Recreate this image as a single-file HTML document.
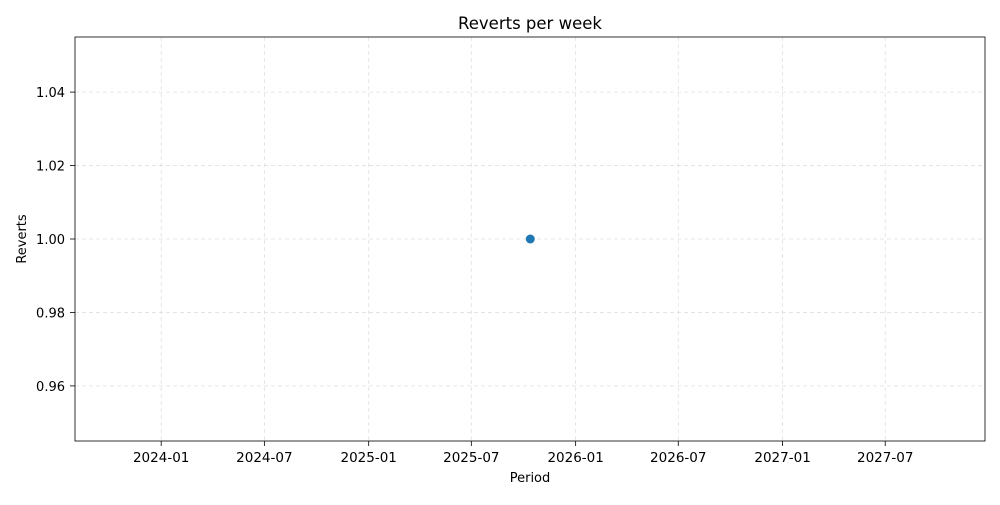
<!DOCTYPE html>
<html><head><meta charset="utf-8"><style>
body{margin:0;background:#fff;font-family:"Liberation Sans","DejaVu Sans",sans-serif;}
svg text{font-family:"DejaVu Sans","Liberation Sans",sans-serif;}
</style></head><body>
<svg id="chart" width="1000" height="500">
<rect width="1000" height="500" fill="#fff"/>
<g id="grid"></g><g id="axes"></g><g id="marks"></g>
<text x="530" y="29" text-anchor="middle" font-size="16.5">Reverts per week</text>
<text x="530" y="482" text-anchor="middle" font-size="13">Period</text>
<text transform="translate(26,239) rotate(-90)" text-anchor="middle" font-size="13">Reverts</text>
</svg>
<script>
const dates = ["2025-10-13"];
const values = [1];
const xTicks = ["2024-01","2024-07","2025-01","2025-07","2026-01","2026-07","2027-01","2027-07"];
const yTicks = [0.96,0.98,1.00,1.02,1.04];
const L=75,R=985,T=37,B=441;
const x0=Date.UTC(2023,7,2), x1=Date.UTC(2027,11,24);
const y0=0.945, y1=1.055;
function xs(d){const t=Date.parse(d.length===7?d+"-01":d);return L+(t-x0)/(x1-x0)*(R-L);}
function ys(v){return B-(v-y0)/(y1-y0)*(B-T);}
const NS="http://www.w3.org/2000/svg";
function mk(p,tag,a){const e=document.createElementNS(NS,tag);for(const k in a)e.setAttribute(k,a[k]);p.appendChild(e);return e;}
const g=document.getElementById('grid'),ax=document.getElementById('axes'),m=document.getElementById('marks');
xTicks.forEach(t=>{const x=xs(t);
 const l=mk(g,'line',{x1:x,x2:x,y1:T,y2:B,stroke:'#e0e0e0','stroke-dasharray':'4,3','stroke-width':0.8});
 
 
 mk(ax,'line',{x1:x,x2:x,y1:B,y2:B+5,stroke:'#000','stroke-width':0.8});
 const tx=mk(ax,'text',{x:x,y:B+21,'text-anchor':'middle','font-size':13.5});tx.textContent=t;
 
 
});
yTicks.forEach(v=>{const y=ys(v);
 const l=mk(g,'line',{x1:L,x2:R,y1:y,y2:y,stroke:'#e0e0e0','stroke-dasharray':'4,3','stroke-width':0.8});
 
 
 mk(ax,'line',{x1:L-5,x2:L,y1:y,y2:y,stroke:'#000','stroke-width':0.8});
 const tx=mk(ax,'text',{x:L-10,y:y+5,'text-anchor':'end','font-size':13});tx.textContent=v.toFixed(2);
 
 
});
const fr=mk(ax,'rect',{x:L,y:T,width:R-L,height:B-T,fill:'none',stroke:'#000','stroke-width':0.8});


dates.forEach((d,i)=>{const c=mk(m,'circle',{cx:xs(d),cy:ys(values[i]),r:4.5,fill:'#1f77b4'});
 
 
});
</script>
</body></html>
